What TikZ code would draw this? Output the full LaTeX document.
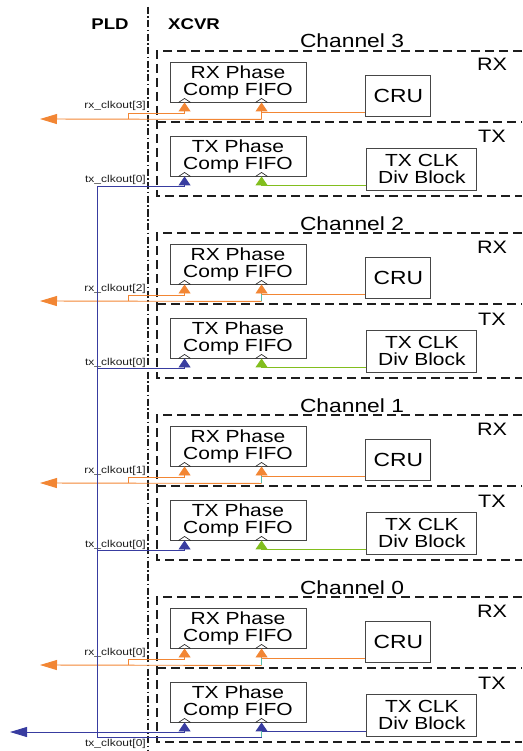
\documentclass[tikz,border=0pt]{standalone}
\usepackage{fontspec}
\setmainfont{Liberation Sans}[FakeStretch=1.2]
\usetikzlibrary{arrows.meta, positioning, calc}
\definecolor{clkorange}{RGB}{242,134,52}
\definecolor{clkblue}{RGB}{56,60,160}
\definecolor{clkgreen}{RGB}{130,190,30}
\definecolor{clkteal}{RGB}{90,190,170}
\definecolor{boxgray}{RGB}{70,70,70}
\definecolor{mydark}{RGB}{30,30,30}
\tikzset{
  fifo/.style={rectangle, draw=boxgray, line width=0.9pt,
    minimum width=136pt, minimum height=40pt, inner sep=0pt,
    align=center, font={\fontsize{17.5}{17}\selectfont}},
  crublock/.style={rectangle, draw=boxgray, line width=0.9pt,
    minimum width=65pt, minimum height=41pt, inner sep=0pt,
    font={\fontsize{19}{20}\selectfont}},
  divblock/.style={rectangle, draw=boxgray, line width=0.9pt,
    minimum width=110pt, minimum height=42pt, inner sep=0pt,
    align=center, font={\fontsize{17.5}{16.5}\selectfont}},
  chanbox/.style={draw=mydark, line width=2pt, dash pattern=on 9pt off 5pt},
  domainsep/.style={draw=mydark, line width=1.6pt,
    dash pattern=on 7pt off 2.5pt on 1.5pt off 2.5pt},
  clkmark/.style={draw=mydark, line width=0.6pt},
  wire/.style={line width=0.9pt},
  uparrow/.style={-{Triangle[length=9pt, width=12pt]}},
  outarrow/.style={-{Triangle[length=17pt, width=10pt]}},
  siglabel/.style={font={\fontsize{10}{12}\selectfont}, inner sep=0pt, text=mydark},
  hdr/.style={font={\fontsize{19}{20}\selectfont}, inner sep=0pt},
  sectlabel/.style={font={\fontsize{18}{20}\selectfont}, inner sep=0pt}
}

\begin{document}
\begin{tikzpicture}[x=1pt, y=-1pt]
  \useasboundingbox (0,0) rectangle (522,751);

  % Domains
  \draw[domainsep] (148,7) -- (148,751);
  \node[font={\bfseries\fontsize{15.5}{18}\selectfont}] (pld) at (110,24) {PLD};
  \node[font={\bfseries\fontsize{15.5}{18}\selectfont}] (xcvr) at (194,24) {XCVR};

  \foreach \ch/\o/\jcol/\dcol/\tly in {3/51/clkorange/clkgreen/183,
      2/233/clkteal/clkgreen/365, 1/415/clkteal/clkgreen/547,
      0/597/clkteal/clkblue/746} {
    % Channel frame
    \draw[chanbox] (522,\o) -| (157,\o+145) -- (522,\o+145);
    \draw[chanbox] (157,\o+71) -- (522,\o+71);
    \node[hdr, anchor=base] (chlbl\ch) at (352,\o-3) {Channel \ch};
    \node[sectlabel, anchor=base] (rxlbl\ch) at (492,\o+20) {RX};
    \node[sectlabel, anchor=base] (txlbl\ch) at (492,\o+92) {TX};

    % Nodes
    \node[fifo] (rxf\ch) at (238,\o+31) {RX Phase\\Comp FIFO};
    \node[crublock, right=59pt of rxf\ch, yshift=-13.5pt] (cru\ch) {CRU};
    \node[fifo] (txf\ch) at (238,\o+105) {TX Phase\\Comp FIFO};
    \node[divblock, right=60pt of txf\ch, yshift=-13pt] (txd\ch) {TX CLK\\Div Block};

    % Clock inputs
    \coordinate (rxc1\ch) at ($(rxf\ch.south west)+(15,0)$);
    \coordinate (rxc2\ch) at ($(rxf\ch.south west)+(92,0)$);
    \coordinate (txc1\ch) at ($(txf\ch.south west)+(15,0)$);
    \coordinate (txc2\ch) at ($(txf\ch.south west)+(92,0)$);
    \foreach \c in {rxc1\ch, rxc2\ch, txc1\ch, txc2\ch}
      \draw[clkmark] ($(\c)+(-6,0)$) -- ++(6,-4) -- ++(6,4);

    % RX clocks
    \coordinate (cruo\ch) at ($(cru\ch.south west)+(0,-4)$);
    \coordinate (rxj\ch) at (rxc2\ch |- cruo\ch);
    \coordinate (rxb\ch) at ($(rxj\ch)+(0,7)$);
    \coordinate (rxfb\ch) at (128,\o+68);
    \coordinate (rxout\ch) at (40,\o+68);
    \draw[wire, uparrow, clkorange] (cruo\ch) -| (rxc2\ch);
    \draw[wire, \jcol] (rxj\ch) -- (rxb\ch);
    \draw[wire, outarrow, clkorange] (rxb\ch) -- (rxout\ch);
    \draw[wire, uparrow, clkorange] (rxfb\ch) -- ++(0,-6) -| (rxc1\ch);
    \node[siglabel, anchor=base east] (rxsig\ch) at (146,\o+58) {rx\_clkout[\ch]};

    % TX clocks
    \coordinate (divo\ch) at ($(txd\ch.south west)+(0,-5)$);
    \coordinate (txj\ch) at (txc2\ch |- divo\ch);
    \coordinate (txfb\ch) at (97,\o+135);
    \draw[wire, uparrow, \dcol, line width=1.2pt] (divo\ch) -| (txc2\ch);
    \draw[wire, uparrow, clkblue] (txfb\ch) -| (txc1\ch);
    \node[siglabel, anchor=base east] (txsig\ch) at (146,\tly) {tx\_clkout[0]};
  }

  % tx_clkout[0] distribution
  \coordinate (txb0) at ($(txj0)+(0,6)$);
  \coordinate (txout0) at (10,732);
  \draw[wire, clkteal] (txj0) -- (txb0);
  \draw[wire, clkblue] (txb0) -| (txfb3);
  \draw[wire, outarrow, clkblue] (txfb0) -- (txout0);
\end{tikzpicture}
\end{document}
